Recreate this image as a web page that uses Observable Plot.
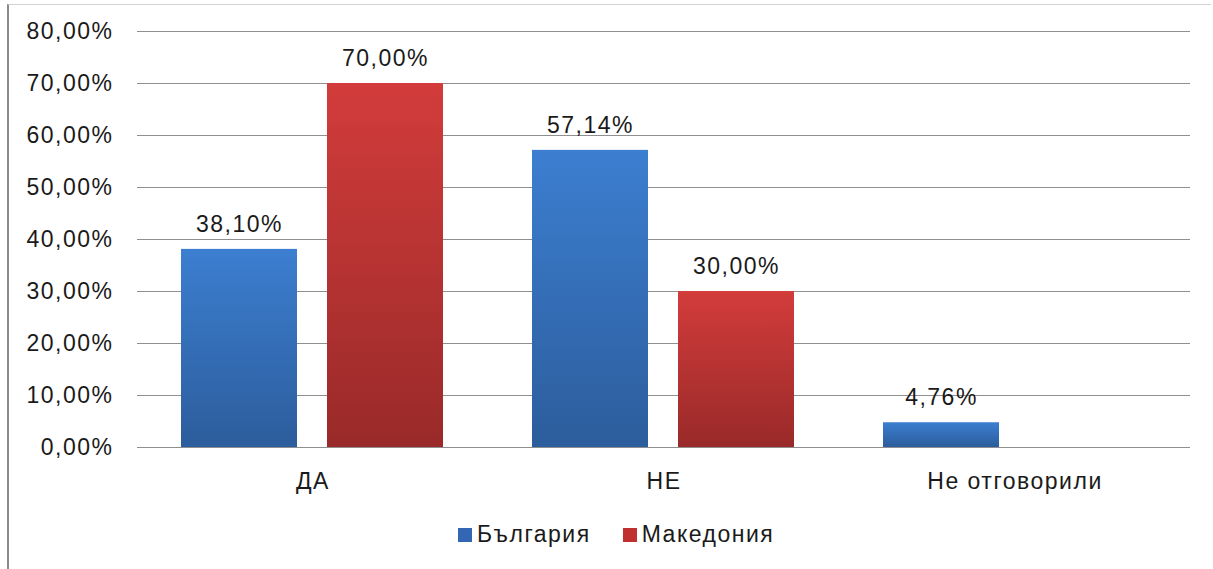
<!DOCTYPE html>
<html>
<head>
<meta charset="utf-8">
<script src="https://cdn.jsdelivr.net/npm/d3@7"></script>
<script src="https://cdn.jsdelivr.net/npm/@observablehq/plot@0.6"></script>
<style>
  html, body { margin: 0; padding: 0; background: #fff; }
  body { width: 1213px; height: 569px; position: relative; overflow: hidden;
         font-family: "Liberation Sans", Arial, sans-serif; color: #1a1a1a; }
  #frame { position: absolute; left: 7px; top: 4px; width: 1204px; height: 570px;
           border-left: 2px solid #8a8a8a; border-top: 1px solid #d2d2d2; box-sizing: border-box; }
  #chart { position: absolute; left: 0; top: 0; }
  #legend { position: absolute; left: 458px; top: 521px; display: flex; align-items: center;
            font-size: 23px; letter-spacing: 1.5px; }
  #legend .item { display: flex; align-items: center; margin-right: 32px; }
  #legend .sw { width: 14px; height: 14px; margin-right: 5px; }
  #defs { position: absolute; width: 0; height: 0; }
</style>
</head>
<body>
<div id="frame"></div>
<svg id="defs" width="0" height="0">
  <defs>
    <linearGradient id="gB" x1="0" y1="0" x2="0" y2="1">
      <stop offset="0" stop-color="#3c7ed0"/>
      <stop offset="1" stop-color="#2c5d9c"/>
    </linearGradient>
    <linearGradient id="gR" x1="0" y1="0" x2="0" y2="1">
      <stop offset="0" stop-color="#d23c3b"/>
      <stop offset="1" stop-color="#992a29"/>
    </linearGradient>
  </defs>
</svg>
<div id="chart"></div>
<div id="legend"></div>
<script>
const categories = ["ДА", "НЕ", "Не отговорили"];
const series = ["България", "Македония"];
const bulgaria = [38.10, 57.14, 4.76];
const macedonia = [70.00, 30.00, null];
const yTicks = [0, 10, 20, 30, 40, 50, 60, 70, 80];
const seriesFill = { "България": "url(#gB)", "Македония": "url(#gR)" };
const legendColors = { "България": "#3366b3", "Македония": "#c0302f" };

const data = categories.flatMap((c, i) => [
  { cat: c, series: series[0], value: bulgaria[i] },
  { cat: c, series: series[1], value: macedonia[i] }
]).filter(d => d.value != null);

const fmt = v => v.toFixed(2).replace(".", ",") + "%";

const plot = Plot.plot({
  width: 1213,
  height: 500,
  marginLeft: 137,
  marginRight: 23,
  marginTop: 31,
  marginBottom: 53,
  style: { fontFamily: "'Liberation Sans', Arial, sans-serif", fontSize: "23px",
           color: "#1a1a1a", background: "transparent", letterSpacing: "1.5px" },
  fx: { domain: categories, padding: 0, label: null, axis: null },
  x: { domain: series, paddingInner: 0.204, paddingOuter: 0.296, axis: null },
  y: { domain: [0, 80], axis: null },
  marks: [
    Plot.gridY(yTicks, { stroke: "#8f8f8f", strokeOpacity: 1 }),
    Plot.axisY(yTicks, { anchor: "left", tickSize: 0, tickPadding: 24, tickFormat: fmt,
                         fontSize: 23, label: null, line: true, stroke: "#8f8f8f", fill: "#1a1a1a" }),
    Plot.axisFx({ anchor: "bottom", tickSize: 0, tickPadding: 25, fontSize: 23, label: null, fill: "#1a1a1a" }),
    ...series.map(s => Plot.barY(data.filter(d => d.series === s), {
      fx: "cat", x: "series", y: "value", fill: seriesFill[s]
    })),
    Plot.text(data, { fx: "cat", x: "series", y: "value", text: d => fmt(d.value),
                      dy: -25, fontSize: 23, fill: "#1a1a1a" })
  ]
});
document.getElementById("chart").appendChild(plot);

const legend = document.getElementById("legend");
series.forEach(s => {
  const item = document.createElement("div");
  item.className = "item";
  const sw = document.createElement("span");
  sw.className = "sw";
  sw.style.background = legendColors[s];
  const t = document.createElement("span");
  t.textContent = s;
  item.appendChild(sw);
  item.appendChild(t);
  legend.appendChild(item);
});
</script>
</body>
</html>
